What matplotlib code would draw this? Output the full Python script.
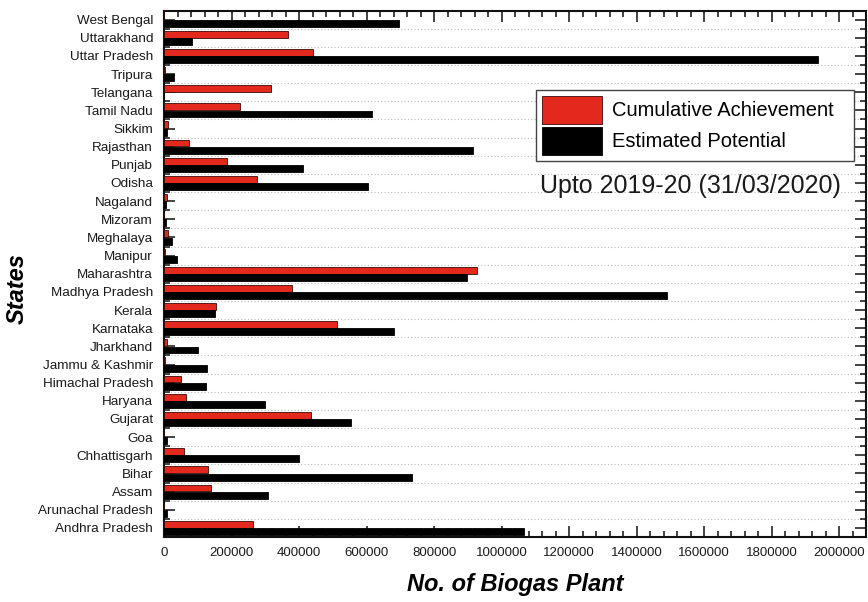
import numpy as np
import matplotlib
matplotlib.use("Agg")
import matplotlib.pyplot as plt
from matplotlib.ticker import MultipleLocator, FixedLocator

# states listed bottom to top
states = ["Andhra Pradesh", "Arunachal Pradesh", "Assam", "Bihar", "Chhattisgarh",
          "Goa", "Gujarat", "Haryana", "Himachal Pradesh", "Jammu & Kashmir",
          "Jharkhand", "Karnataka", "Kerala", "Madhya Pradesh", "Maharashtra",
          "Manipur", "Meghalaya", "Mizoram", "Nagaland", "Odisha", "Punjab",
          "Rajasthan", "Sikkim", "Tamil Nadu", "Telangana", "Tripura",
          "Uttar Pradesh", "Uttarakhand", "West Bengal"]

achievement = [262000, 0, 139000, 130000, 60000,
               0, 435000, 64000, 49000, 2000,
               8000, 511000, 155000, 378000, 926000,
               1000, 11000, 0, 9000, 274000, 186000,
               73500, 11000, 225000, 318000, 3000,
               442000, 368000, 0]

potential = [1065000, 7500, 307000, 733000, 400000,
             8000, 554000, 300000, 125000, 128000,
             100000, 680000, 150000, 1491000, 897000,
             38000, 24000, 5000, 6700, 605000, 411600,
             915000, 7300, 615000, 0, 28500,
             1938000, 83000, 695000]

plt.rcParams["font.family"] = ["Liberation Sans", "DejaVu Sans"]

fig = plt.figure(figsize=(8.68, 6.02), dpi=100)
ax = fig.add_axes([164.2 / 868, 1 - 537 / 602, (866 - 164.2) / 868, (537 - 10.5) / 602])

y = np.arange(len(states))
h = 0.38
ax.barh(y + 0.2, achievement, height=h, color="#e3291d", edgecolor="#3a0a05",
        linewidth=0.6, label="Cumulative Achievement", zorder=3)
ax.barh(y - 0.2, potential, height=h, color="black", edgecolor="black",
        linewidth=0.6, label="Estimated Potential", zorder=3)

ax.set_xlim(0, 2080000)
ax.set_ylim(-0.5, len(states) - 0.5)

ax.set_yticks(y)
ax.set_yticklabels(states, fontsize=9.7, color="#1a1a1a")
ax.yaxis.set_minor_locator(FixedLocator(y[:-1] + 0.5))
ax.xaxis.set_major_locator(MultipleLocator(200000))
ax.xaxis.set_minor_locator(MultipleLocator(40000))
ax.ticklabel_format(axis="x", style="plain")

ax.tick_params(which="both", direction="in", top=True, right=True, width=1.1,
               color="#111111")
ax.tick_params(which="major", length=8)
ax.tick_params(which="minor", length=4)
ax.tick_params(axis="x", pad=7, labelsize=9.5, labelcolor="#1a1a1a")
ax.tick_params(axis="y", pad=8)

for s in ax.spines.values():
    s.set_linewidth(1.5)
    s.set_color("#111111")

ax.set_axisbelow(True)
ax.grid(axis="y", which="minor", color="#bdbdbd", linestyle=(0, (1, 2)), linewidth=0.8)

ax.set_xlabel("No. of Biogas Plant", fontsize=17, fontweight="bold", style="italic",
              labelpad=10)
ax.set_ylabel("States", fontsize=17, fontweight="bold", style="italic")
ax.yaxis.set_label_coords(-0.193, 0.471)

# legend box stretched over a fixed span of the axes
leg = ax.legend(loc="upper left", bbox_to_anchor=(0.5298, 0.849 - 0.135, 0.4531, 0.135),
                mode="expand", fontsize=14.5,
                handlelength=3.0, handleheight=1.75, labelspacing=0.14,
                handletextpad=0.45, borderpad=0.3, borderaxespad=0,
                fancybox=False, framealpha=1)
leg.get_frame().set_edgecolor("#444444")
leg.get_frame().set_linewidth(1.0)

ax.text(0.5355, 0.667, "Upto 2019-20 (31/03/2020)", transform=ax.transAxes,
        fontsize=18, va="center", ha="left", color="#1a1a1a")

fig.savefig("out.png", dpi=100)
